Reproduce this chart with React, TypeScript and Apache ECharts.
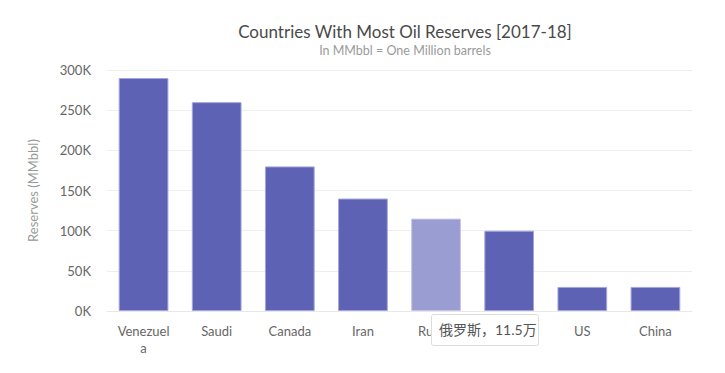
import React, { useEffect, useRef } from "react";
import * as echarts from "echarts";

const categories = ["Venezuela", "Saudi", "Canada", "Iran", "Russia", "UAE", "US", "China"];
const reserves = [290000, 260000, 180000, 140000, 115000, 100000, 30000, 30000];
const highlighted = "Russia";
const tooltipText = "俄罗斯，11.5万";

const FONT = "Lato, 'Noto Sans', 'Noto Sans CJK SC', sans-serif";

export default function App() {
  const ref = useRef<HTMLDivElement>(null);
  useEffect(() => {
    if (!ref.current) return;
    const chart = echarts.init(ref.current, null, { renderer: "svg" });
    chart.setOption({
      animation: false,
      backgroundColor: "#ffffff",
      title: {
        text: "Countries With Most Oil Reserves [2017-18]",
        subtext: "In MMbbl = One Million barrels",
        left: 400,
        textAlign: "center",
        top: 18,
        itemGap: 4,
        textStyle: { fontFamily: FONT, fontSize: 17, fontWeight: "normal", color: "#4a4a4a" },
        subtextStyle: { fontFamily: FONT, fontSize: 12.5, color: "#9a9a9a" },
      },
      grid: { left: 107, right: 33, top: 70, bottom: 62 },
      xAxis: {
        type: "category",
        data: categories,
        axisLine: { lineStyle: { color: "#e8e8e8" } },
        axisTick: { show: false },
        axisLabel: {
          fontFamily: FONT,
          fontSize: 13,
          color: "#666",
          margin: 11,
          lineHeight: 17,
          interval: 0,
          formatter: (v: string) => (v.length > 8 ? v.slice(0, 8) + "\n" + v.slice(8) : v),
        },
      },
      yAxis: {
        type: "value",
        min: 0,
        max: 300000,
        interval: 50000,
        name: "Reserves (MMbbl)",
        nameLocation: "middle",
        nameGap: 68,
        nameTextStyle: { fontFamily: FONT, fontSize: 13, color: "#999" },
        axisLine: { show: false },
        axisTick: { show: false },
        splitLine: { lineStyle: { color: "#eeeeee" } },
        axisLabel: {
          fontFamily: FONT,
          fontSize: 13,
          color: "#666",
          margin: 16,
          formatter: (v: number) => v / 1000 + "K",
        },
      },
      series: [
        {
          type: "bar",
          barWidth: "68%",
          data: reserves.map((v, i) => ({
            value: v,
            itemStyle:
              categories[i] === highlighted
                ? { color: "#9a9dd1", borderColor: "#c3c5e8" }
                : undefined,
          })),
          itemStyle: { color: "#5d62b5", borderColor: "#a3a6dc", borderWidth: 1 },
        },
      ],
      graphic: [
        {
          type: "rect",
          left: 431,
          top: 314,
          z: 100,
          zlevel: 1,
          shape: { x: 0, y: 0, width: 107, height: 31, r: 2 },
          style: { fill: "#ffffff", stroke: "#dddddd", lineWidth: 1 },
        },
        {
          type: "text",
          left: 439,
          top: 322,
          z: 101,
          zlevel: 1,
          style: { text: tooltipText, font: "14px " + FONT, fill: "#555" },
        },
      ],
    });
    return () => chart.dispose();
  }, []);
  return <div ref={ref} style={{ position: "absolute", left: 0, top: 0, width: 725, height: 373 }} />;
}
